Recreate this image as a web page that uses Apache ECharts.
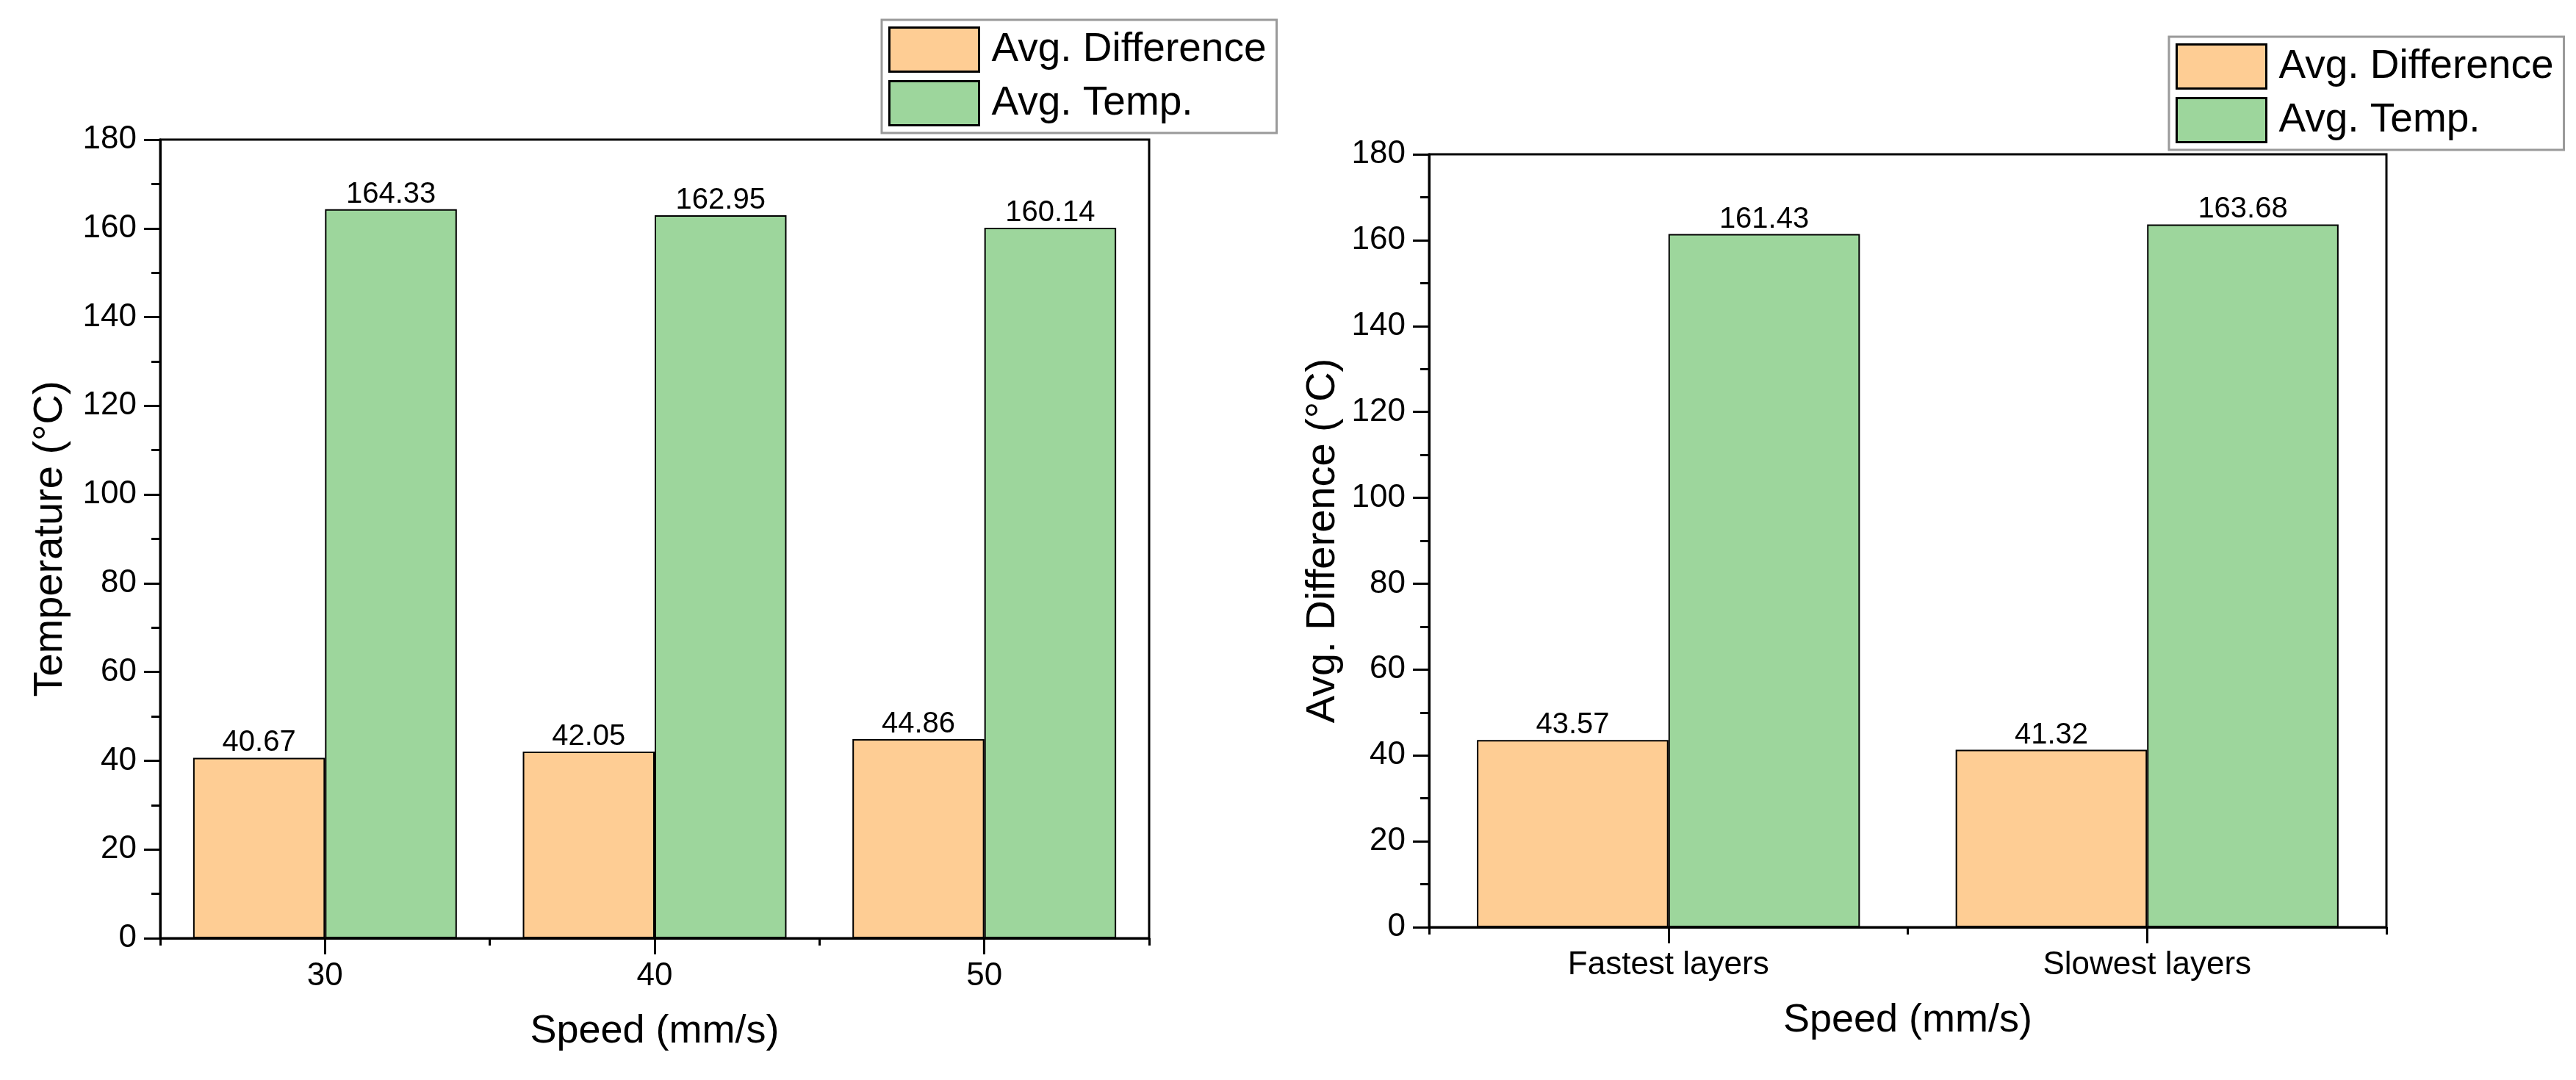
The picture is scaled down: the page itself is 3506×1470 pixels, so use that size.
<!DOCTYPE html>
<html>
<head>
<meta charset="utf-8">
<script src="https://cdn.jsdelivr.net/npm/echarts@6/dist/echarts.min.js"></script>
<style>
html,body{margin:0;padding:0;background:#fff;}
#c{width:3506px;height:1470px;}
</style>
</head>
<body>
<div id="c"></div>
<script>
var seriesNames = ['Avg. Difference', 'Avg. Temp.'];
var leftCategories = ['30', '40', '50'];
var leftAvgDifference = [40.67, 42.05, 44.86];
var leftAvgTemp = [164.33, 162.95, 160.14];
var rightCategories = ['Fastest layers', 'Slowest layers'];
var rightAvgDifference = [43.57, 41.32];
var rightAvgTemp = [161.43, 163.68];
var leftYTitle = 'Temperature (\u00B0C)';
var rightYTitle = 'Avg. Difference (\u00B0C)';
var xTitle = 'Speed (mm/s)';
var yMin = 0, yMax = 180, yInterval = 20;

var FONT = "'Liberation Sans', Arial, sans-serif";
var ORANGE = '#FECD94';
var GREEN = '#9DD69C';

function yAxis(gridIndex, name, gap) {
  return {
    type: 'value', gridIndex: gridIndex, min: yMin, max: yMax, interval: yInterval,
    name: name, nameLocation: 'middle', nameGap: gap,
    nameTextStyle: {fontSize: 56, fontFamily: FONT, color: '#000'},
    axisLine: {show: true, lineStyle: {color: '#000', width: 3}},
    axisTick: {show: true, inside: false, length: 22, lineStyle: {color: '#000', width: 3}},
    minorTick: {show: true, splitNumber: 2, length: 12, lineStyle: {color: '#000', width: 3}},
    axisLabel: {fontSize: 44, fontFamily: FONT, color: '#000', margin: 32},
    splitLine: {show: false}
  };
}
function xAxis(gridIndex, cats, name) {
  return {
    type: 'category', gridIndex: gridIndex, data: cats,
    name: name, nameLocation: 'middle', nameGap: 100,
    nameTextStyle: {fontSize: 54, fontFamily: FONT, color: '#000'},
    axisLine: {show: true, lineStyle: {color: '#000', width: 3}},
    axisTick: {show: true, alignWithLabel: false, length: 10, lineStyle: {color: '#000', width: 3}},
    axisLabel: {fontSize: 44, fontFamily: FONT, color: '#000', margin: 30},
    splitLine: {show: false}
  };
}
function xAxisMajor(gridIndex, cats) {
  return {
    type: 'category', gridIndex: gridIndex, data: cats, position: 'bottom',
    axisLine: {show: false},
    axisTick: {show: true, alignWithLabel: true, length: 22, lineStyle: {color: '#000', width: 3}},
    axisLabel: {show: false},
    splitLine: {show: false}
  };
}
function barSeries(name, xi, yi, data, color) {
  return {
    type: 'bar', name: name, xAxisIndex: xi, yAxisIndex: yi, data: data,
    barGap: '0%', barCategoryGap: '20%',
    itemStyle: {color: color, borderColor: '#000', borderWidth: 2},
    label: {show: true, position: 'top', distance: 0, fontSize: 40, fontFamily: FONT, color: '#000',
      formatter: function (p) { return p.value.toFixed(2); }},
    emphasis: {disabled: true}
  };
}
function legend(left, top) {
  return {
    data: seriesNames, orient: 'vertical', left: left, top: top,
    itemWidth: 122, itemHeight: 60, itemGap: 10,
    padding: [9, 14, 9, 9],
    borderColor: '#9a9a9a', borderWidth: 3, backgroundColor: '#fff',
    icon: 'rect',
    itemStyle: {borderColor: '#000', borderWidth: 3},
    textStyle: {fontSize: 55, fontFamily: FONT, color: '#000', padding: [0, 0, 0, 12]},
    selectedMode: false
  };
}

var chart = echarts.init(document.getElementById('c'), null, {renderer: 'canvas'});
chart.setOption({
  backgroundColor: '#fff',
  animation: false,
  textStyle: {fontFamily: FONT},
  legend: [legend(1200, 27), legend(2952, 50)],
  grid: [
    {left: 218, top: 190, width: 1346, height: 1087, show: true, borderColor: '#000', borderWidth: 3, backgroundColor: 'transparent'},
    {left: 1945, top: 210, width: 1303, height: 1052, show: true, borderColor: '#000', borderWidth: 3, backgroundColor: 'transparent'}
  ],
  xAxis: [
    xAxis(0, leftCategories, xTitle),
    xAxis(1, rightCategories, xTitle),
    xAxisMajor(0, leftCategories),
    xAxisMajor(1, rightCategories)
  ],
  yAxis: [
    yAxis(0, leftYTitle, 121),
    yAxis(1, rightYTitle, 116)
  ],
  series: [
    barSeries(seriesNames[0], 0, 0, leftAvgDifference, ORANGE),
    barSeries(seriesNames[1], 0, 0, leftAvgTemp, GREEN),
    barSeries(seriesNames[0], 1, 1, rightAvgDifference, ORANGE),
    barSeries(seriesNames[1], 1, 1, rightAvgTemp, GREEN)
  ]
});
</script>
</body>
</html>
